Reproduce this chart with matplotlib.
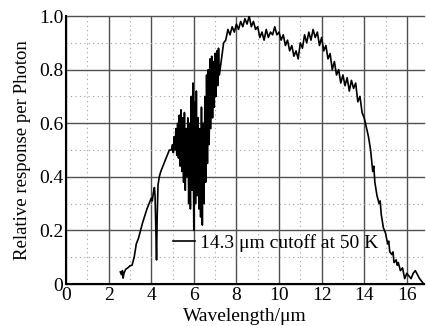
import matplotlib
matplotlib.use('Agg')
import matplotlib.pyplot as plt
from matplotlib.ticker import MultipleLocator

plt.rcParams['font.family'] = ['Liberation Serif', 'DejaVu Serif']

# rising edge (2.5 - 5 um)
x_rise = [2.55, 2.6, 2.65, 2.68, 2.72, 2.8, 2.9, 3.0, 3.1, 3.2, 3.3, 3.4, 3.5,
          3.6, 3.7, 3.8, 3.9, 4.0, 4.05, 4.1, 4.15, 4.18, 4.22, 4.25, 4.28,
          4.32, 4.38, 4.45, 4.55, 4.65, 4.75, 4.85, 4.95]
y_rise = [0.045, 0.035, 0.05, 0.022, 0.04, 0.055, 0.06, 0.068, 0.07, 0.1, 0.15,
          0.17, 0.2, 0.23, 0.255, 0.28, 0.3, 0.32, 0.31, 0.34, 0.36, 0.33, 0.2,
          0.09, 0.25, 0.37, 0.4, 0.42, 0.44, 0.46, 0.48, 0.5, 0.5]

# absorption band (5 - 7.2 um)
x_band = [5.00, 5.04, 5.08, 5.12, 5.16, 5.20, 5.24, 5.28, 5.32, 5.36, 5.40,
          5.44, 5.48, 5.52, 5.56, 5.60, 5.64, 5.68, 5.72, 5.76, 5.80, 5.84,
          5.88, 5.92, 5.96, 6.00, 6.04, 6.08, 6.12, 6.16, 6.20, 6.24, 6.28,
          6.32, 6.36, 6.40, 6.44, 6.48, 6.52, 6.56, 6.60, 6.64, 6.68, 6.72,
          6.76, 6.80, 6.84, 6.88, 6.92, 6.96, 7.00, 7.04, 7.08, 7.12, 7.16, 7.20]
y_band = [0.52, 0.49, 0.55, 0.50, 0.58, 0.48, 0.60, 0.47, 0.63, 0.44, 0.65,
          0.42, 0.62, 0.38, 0.64, 0.35, 0.58, 0.40, 0.62, 0.30, 0.60, 0.28,
          0.70, 0.35, 0.75, 0.20, 0.68, 0.30, 0.72, 0.33, 0.62, 0.28, 0.58,
          0.25, 0.66, 0.22, 0.60, 0.30, 0.70, 0.38, 0.78, 0.45, 0.80, 0.52,
          0.84, 0.58, 0.85, 0.62, 0.83, 0.66, 0.86, 0.70, 0.87, 0.74, 0.88, 0.78]

# plateau (7.3 - 14 um)
x_top = [7.3, 7.4, 7.5, 7.6, 7.7, 7.8, 7.9, 8.0, 8.1, 8.2, 8.3, 8.4, 8.5, 8.6,
         8.7, 8.8, 8.9, 9.0, 9.1, 9.2, 9.3, 9.4, 9.5, 9.6, 9.7, 9.8, 9.9, 10.0,
         10.1, 10.2, 10.3, 10.4, 10.5, 10.6, 10.7, 10.8, 10.9, 11.0, 11.1, 11.2,
         11.3, 11.4, 11.5, 11.6, 11.7, 11.8, 11.9, 12.0, 12.1, 12.2, 12.3, 12.4,
         12.5, 12.6, 12.7, 12.8, 12.9, 13.0, 13.1, 13.2, 13.3, 13.4, 13.5, 13.6,
         13.7, 13.8, 13.9, 14.0]
y_top = [0.84, 0.90, 0.91, 0.95, 0.93, 0.96, 0.94, 0.97, 0.95, 0.98, 0.96, 0.99,
         0.97, 1.0, 0.96, 0.98, 0.95, 0.96, 0.92, 0.94, 0.91, 0.95, 0.92, 0.94,
         0.93, 0.96, 0.93, 0.94, 0.91, 0.93, 0.89, 0.91, 0.87, 0.89, 0.85, 0.87,
         0.84, 0.90, 0.88, 0.93, 0.90, 0.94, 0.91, 0.95, 0.92, 0.94, 0.89, 0.92,
         0.87, 0.89, 0.84, 0.86, 0.80, 0.83, 0.78, 0.80, 0.75, 0.78, 0.74, 0.77,
         0.72, 0.76, 0.73, 0.75, 0.68, 0.70, 0.64, 0.62]

# cutoff edge (14.1 - 16.8 um)
x_tail = [14.1, 14.2, 14.3, 14.4, 14.45, 14.5, 14.6, 14.7, 14.75, 14.8, 14.9,
          15.0, 15.1, 15.15, 15.2, 15.3, 15.35, 15.4, 15.5, 15.55, 15.6, 15.7,
          15.8, 15.9, 16.0, 16.1, 16.2, 16.3, 16.4, 16.5, 16.6, 16.7, 16.75]
y_tail = [0.585, 0.55, 0.50, 0.42, 0.44, 0.38, 0.33, 0.30, 0.31, 0.26, 0.21,
          0.19, 0.15, 0.16, 0.12, 0.11, 0.12, 0.08, 0.09, 0.07, 0.08, 0.05,
          0.06, 0.02, 0.04, 0.03, 0.02, 0.04, 0.05, 0.035, 0.02, 0.01, 0.005]

wavelength = x_rise + x_band + x_top + x_tail
response = y_rise + y_band + y_top + y_tail

fig = plt.figure(figsize=(4.27, 3.26), dpi=100)
ax = fig.add_axes([0.1546, 0.1288, 0.838, 0.822])

ax.plot(wavelength, response, color='k', linewidth=1.2,
        label='14.3 \u03bcm cutoff at 50 K')

ax.set_xlim(0, 16.8)
ax.set_ylim(0, 1.0)
ax.xaxis.set_major_locator(MultipleLocator(2))
ax.xaxis.set_minor_locator(MultipleLocator(1))
ax.yaxis.set_major_locator(MultipleLocator(0.2))
ax.yaxis.set_minor_locator(MultipleLocator(0.1))
ax.set_yticks([0, 0.2, 0.4, 0.6, 0.8, 1.0])
ax.set_yticklabels(['0', '0.2', '0.4', '0.6', '0.8', '1.0'])

ax.grid(which='major', color='#505050', linewidth=1.0, linestyle='-')
ax.grid(which='minor', color='#a0a0a0', linewidth=0.8, linestyle=(0, (1, 3)))
ax.set_axisbelow(True)
for gl in ax.get_ygridlines():
    gl.set_clip_on(False)

ax.tick_params(which='both', length=0, labelsize=14, pad=2)
ax.spines['top'].set_visible(False)
ax.spines['right'].set_visible(False)
ax.spines['left'].set_linewidth(1.5)
ax.spines['bottom'].set_linewidth(1.5)

ax.set_xlabel('Wavelength/\u03bcm', fontsize=14, labelpad=3)
ax.set_ylabel('Relative response per Photon', fontsize=13.5, labelpad=6)

ax.legend(loc='lower left', bbox_to_anchor=(0.30, 0.12), frameon=False,
          fontsize=14, handlelength=1.1, handletextpad=0.25,
          borderpad=0, borderaxespad=0)

fig.savefig('out.png', dpi=100)
